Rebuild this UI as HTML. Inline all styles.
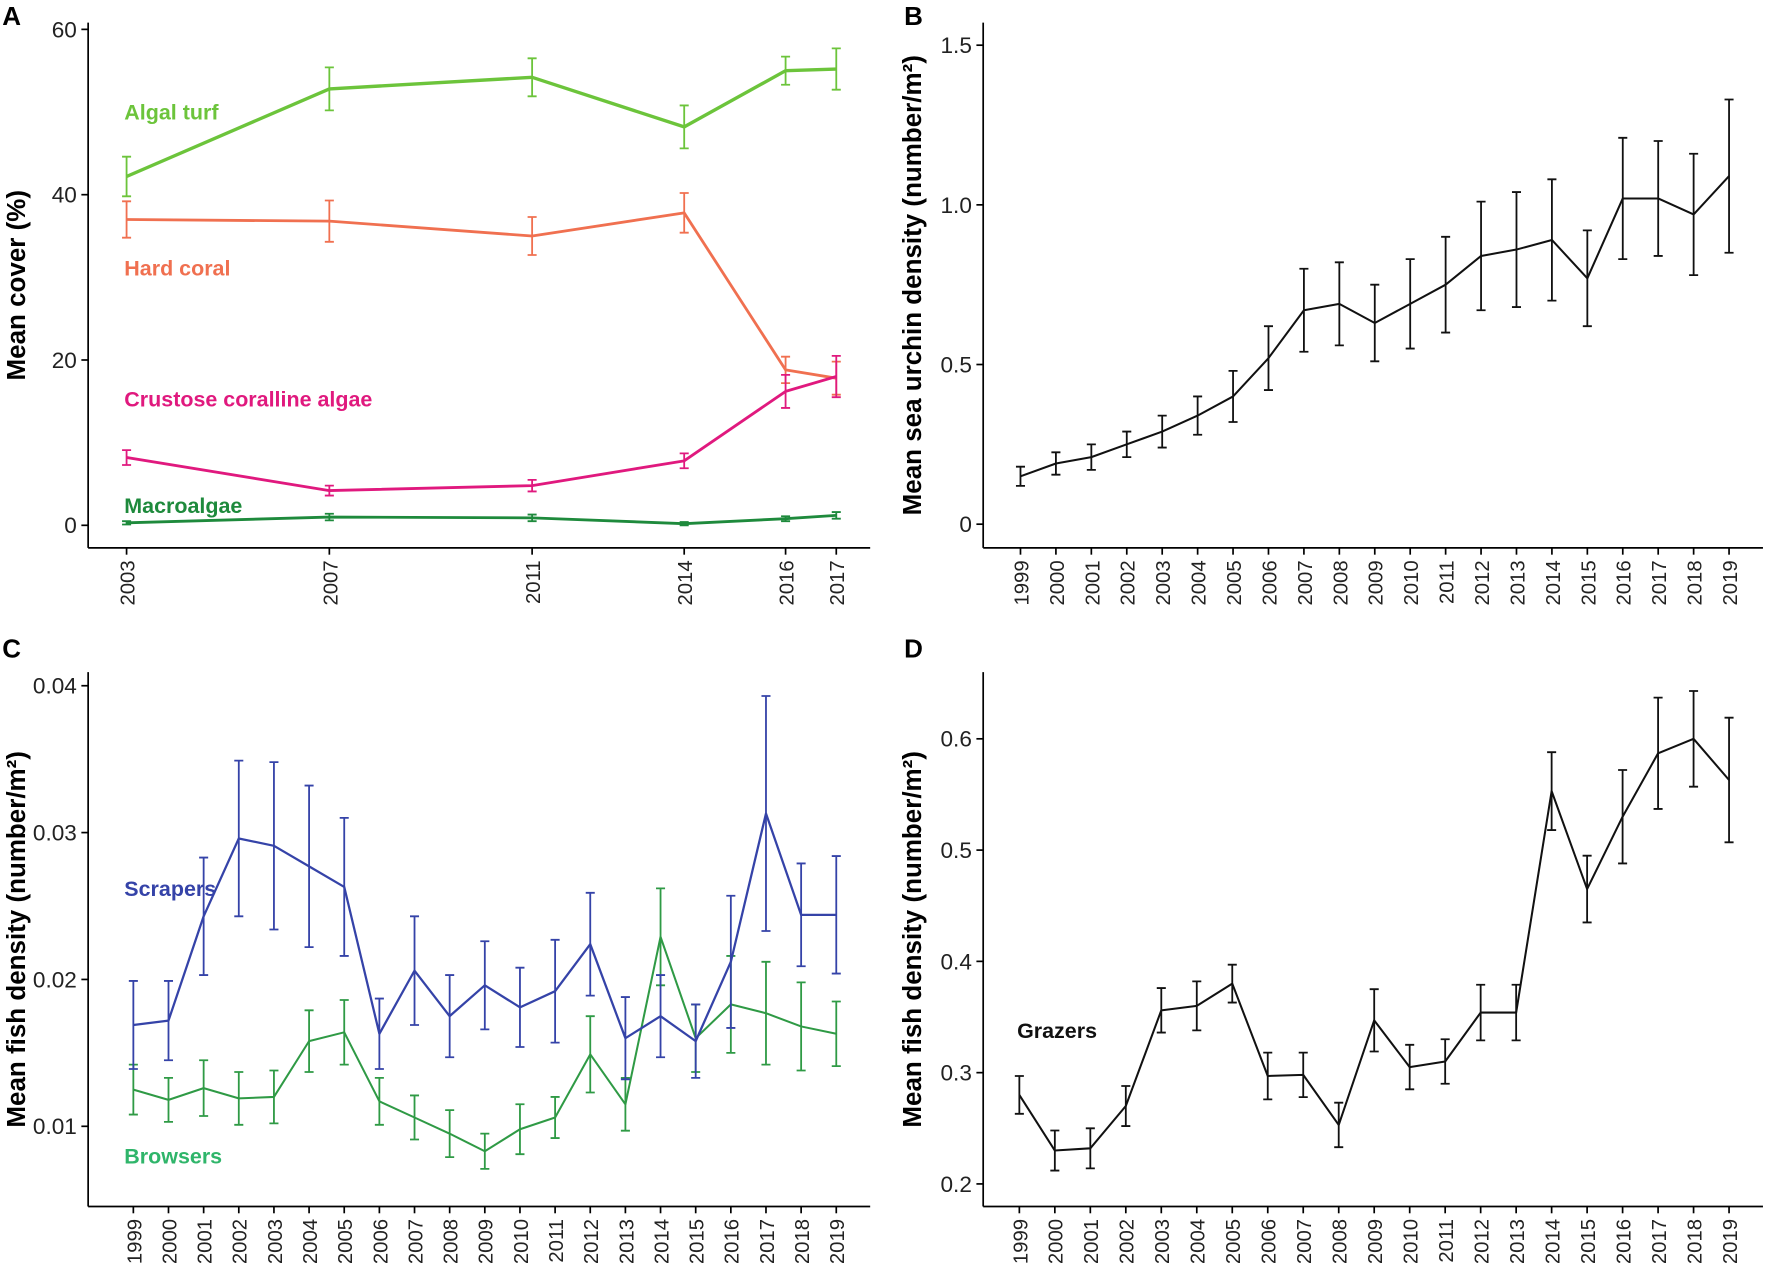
<!DOCTYPE html>
<html><head><meta charset="utf-8"><style>
html,body{margin:0;padding:0;background:#fff;}
svg{display:block;font-family:"Liberation Sans",Arial,sans-serif;}
</style></head><body>
<svg id="fig" width="1772" height="1263" viewBox="0 0 1568 1118" preserveAspectRatio="none" xmlns="http://www.w3.org/2000/svg"></svg>
<script>
// ---------- Panel A data ----------
const yearsA = [2003, 2007, 2011, 2014, 2016, 2017];
const turfVals = [42.2, 52.8, 54.2, 48.2, 55.0, 55.2];
const turfErr = [2.4, 2.6, 2.3, 2.6, 1.7, 2.5];
const coralVals = [37.0, 36.8, 35.0, 37.8, 18.8, 17.8];
const coralErr = [2.2, 2.5, 2.3, 2.4, 1.6, 2.0];
const ccaVals = [8.2, 4.2, 4.8, 7.8, 16.2, 18.0];
const ccaErr = [0.9, 0.6, 0.7, 0.9, 2.0, 2.5];
const macroVals = [0.3, 1.0, 0.9, 0.2, 0.8, 1.2];
const macroErr = [0.2, 0.4, 0.4, 0.2, 0.3, 0.4];
const ticksA = [0, 20, 40, 60];
// ---------- Panel B data ----------
const yearsLong = [1999,2000,2001,2002,2003,2004,2005,2006,2007,2008,2009,2010,2011,2012,2013,2014,2015,2016,2017,2018,2019];
const urchinVals = [0.15,0.19,0.21,0.25,0.29,0.34,0.40,0.52,0.67,0.69,0.63,0.69,0.75,0.84,0.86,0.89,0.77,1.02,1.02,0.97,1.09];
const urchinErr = [0.03,0.035,0.04,0.04,0.05,0.06,0.08,0.10,0.13,0.13,0.12,0.14,0.15,0.17,0.18,0.19,0.15,0.19,0.18,0.19,0.24];
const ticksB = [0, 0.5, 1.0, 1.5];
// ---------- Panel C data ----------
const scraperVals = [0.0169,0.0172,0.0243,0.0296,0.0291,0.0277,0.0263,0.0163,0.0206,0.0175,0.0196,0.0181,0.0192,0.0224,0.0160,0.0175,0.0158,0.0212,0.0313,0.0244,0.0244];
const scraperErr = [0.003,0.0027,0.004,0.0053,0.0057,0.0055,0.0047,0.0024,0.0037,0.0028,0.003,0.0027,0.0035,0.0035,0.0028,0.0028,0.0025,0.0045,0.008,0.0035,0.004];
const browserVals = [0.0125,0.0118,0.0126,0.0119,0.0120,0.0158,0.0164,0.0117,0.0106,0.0095,0.0083,0.0098,0.0106,0.0149,0.0115,0.0229,0.0160,0.0183,0.0177,0.0168,0.0163];
const browserErr = [0.0017,0.0015,0.0019,0.0018,0.0018,0.0021,0.0022,0.0016,0.0015,0.0016,0.0012,0.0017,0.0014,0.0026,0.0018,0.0033,0.0023,0.0033,0.0035,0.003,0.0022];
const ticksC = [0.01, 0.02, 0.03, 0.04];
// ---------- Panel D data ----------
const grazerVals = [0.28,0.23,0.232,0.27,0.356,0.36,0.38,0.297,0.298,0.253,0.347,0.305,0.31,0.354,0.354,0.553,0.465,0.53,0.587,0.60,0.563];
const grazerErr = [0.017,0.018,0.018,0.018,0.02,0.022,0.017,0.021,0.02,0.02,0.028,0.02,0.02,0.025,0.025,0.035,0.03,0.042,0.05,0.043,0.056];
const ticksD = [0.2, 0.3, 0.4, 0.5, 0.6];

const svg = document.getElementById('fig');
const NS = 'http://www.w3.org/2000/svg';
function mk(tag, attrs, parent) {
  const e = document.createElementNS(NS, tag);
  for (const k in attrs) e.setAttribute(k, attrs[k]);
  (parent || svg).appendChild(e);
  return e;
}
function lin(d0, d1, r0, r1) { return v => r0 + (v - d0) * (r1 - r0) / (d1 - d0); }

function panel(cfg) {
  const g = mk('g', {});
  
  
  const yAx = mk('line', {x1: cfg.x0, y1: cfg.top, x2: cfg.x0, y2: cfg.y0, stroke: '#000', 'stroke-width': 1.5}, g);
  
  
  const xAx = mk('line', {x1: cfg.x0, y1: cfg.y0, x2: cfg.right, y2: cfg.y0, stroke: '#000', 'stroke-width': 1.5}, g);
  
  
  cfg.ticks.forEach(t => {
    const y = cfg.ys(t);
    mk('line', {x1: cfg.x0 - 6, y1: y, x2: cfg.x0, y2: y, stroke: '#000', 'stroke-width': 1.5}, g);
    const tx = mk('text', {x: cfg.x0 - 10, y: y + 7, 'text-anchor': 'end', 'font-size': 20, fill: '#222'}, g);
    tx.textContent = cfg.fmt(t);
    
    
  });
  cfg.years.forEach(yr => {
    const x = cfg.xs(yr);
    mk('line', {x1: x, y1: cfg.y0, x2: x, y2: cfg.y0 + 6, stroke: '#000', 'stroke-width': 1.5}, g);
    const tx = mk('text', {x: 0, y: 0, 'text-anchor': 'end', 'font-size': 18, fill: '#222',
      transform: `translate(${x + 7},${cfg.y0 + 11}) rotate(-90)`}, g);
    tx.textContent = yr;
    
    
  });
  const yt = mk('text', {x: 0, y: 0, 'text-anchor': 'middle', 'font-size': 23, 'font-weight': 'bold', fill: '#000',
    transform: `translate(${cfg.ylx},${(cfg.top + cfg.y0) / 2}) rotate(-90)`}, g);
  yt.innerHTML = cfg.ylabel;
  
  
  const lt = mk('text', {x: cfg.lx, y: cfg.ly, 'font-size': 23, 'font-weight': 'bold', fill: '#000'}, g);
  lt.textContent = cfg.letter;
  
  
  return g;
}

function series(g, cfg, vals, errs, color, width, name) {
  const sg = mk('g', {}, g);
  
  
  const pts = vals.map((v, i) => [cfg.xs(cfg.years[i]), cfg.ys(v)]);
  const pl = mk('polyline', {points: pts.map(p => p.join(',')).join(' '), fill: 'none', stroke: color, 'stroke-width': width, 'stroke-linejoin': 'round'}, sg);
  
  
  vals.forEach((v, i) => {
    const x = cfg.xs(cfg.years[i]);
    const y1 = cfg.ys(v - errs[i]), y2 = cfg.ys(v + errs[i]);
    const eb = mk('path', {d: `M${x},${y1}V${y2}M${x - 4},${y1}H${x + 4}M${x - 4},${y2}H${x + 4}`, stroke: color, 'stroke-width': 1.6, fill: 'none'}, sg);
    
    
  });
}
function label(g, x, y, txt, color, name) {
  const t = mk('text', {x: x, y: y, 'font-size': 19, 'font-weight': 'bold', fill: color}, g);
  t.textContent = txt;
  
  
}

// Panel A
const cA = {name: 'panel-a', x0: 78, right: 770, top: 20, y0: 485, years: yearsA, ticks: ticksA,
  xs: lin(2003, 2017, 112, 740), ys: lin(0, 60, 465, 26), fmt: v => v,
  ylabel: 'Mean cover (%)', ylx: 22, letter: 'A', lx: 2, ly: 22};
const gA = panel(cA);
series(gA, cA, turfVals, turfErr, '#6cc43b', 3, 'algal-turf-series');
series(gA, cA, coralVals, coralErr, '#f07050', 2.5, 'hard-coral-series');
series(gA, cA, ccaVals, ccaErr, '#e0197e', 2.5, 'cca-series');
series(gA, cA, macroVals, macroErr, '#1e8a3c', 2.5, 'macroalgae-series');
label(gA, 110, 106, 'Algal turf', '#6cc43b', 'algal-turf-label');
label(gA, 110, 244, 'Hard coral', '#f07050', 'hard-coral-label');
label(gA, 110, 360, 'Crustose coralline algae', '#e0197e', 'cca-label');
label(gA, 110, 454, 'Macroalgae', '#1e8a3c', 'macroalgae-label');

// Panel B
const cB = {name: 'panel-b', x0: 870, right: 1560, top: 20, y0: 485, years: yearsLong, ticks: ticksB,
  xs: lin(1999, 2019, 903, 1530), ys: lin(0, 1.5, 464, 40), fmt: v => v === 0 ? '0' : v.toFixed(1),
  ylabel: 'Mean sea urchin density (number/m²)', ylx: 815, letter: 'B', lx: 800, ly: 22};
const gB = panel(cB);
series(gB, cB, urchinVals, urchinErr, '#111', 1.8, 'urchin-series');

// Panel C
const cC = {name: 'panel-c', x0: 78, right: 770, top: 595, y0: 1068, years: yearsLong, ticks: ticksC,
  xs: lin(1999, 2019, 118, 740), ys: lin(0.01, 0.04, 997, 607), fmt: v => v.toFixed(2),
  ylabel: 'Mean fish density (number/m²)', ylx: 22, letter: 'C', lx: 2, ly: 582};
const gC = panel(cC);
series(gC, cC, browserVals, browserErr, '#2f9a45', 1.8, 'browsers-series');
series(gC, cC, scraperVals, scraperErr, '#3543a8', 2, 'scrapers-series');
label(gC, 110, 793, 'Scrapers', '#3543a8', 'scrapers-label');
label(gC, 110, 1030, 'Browsers', '#2fb56a', 'browsers-label');

// Panel D
const cD = {name: 'panel-d', x0: 870, right: 1560, top: 595, y0: 1068, years: yearsLong, ticks: ticksD,
  xs: lin(1999, 2019, 902, 1530), ys: lin(0.2, 0.6, 1048, 654), fmt: v => v.toFixed(1),
  ylabel: 'Mean fish density (number/m²)', ylx: 815, letter: 'D', lx: 800, ly: 582};
const gD = panel(cD);
series(gD, cD, grazerVals, grazerErr, '#111', 1.8, 'grazers-series');
label(gD, 900, 919, 'Grazers', '#111', 'grazers-label');
</script>
</body></html>
